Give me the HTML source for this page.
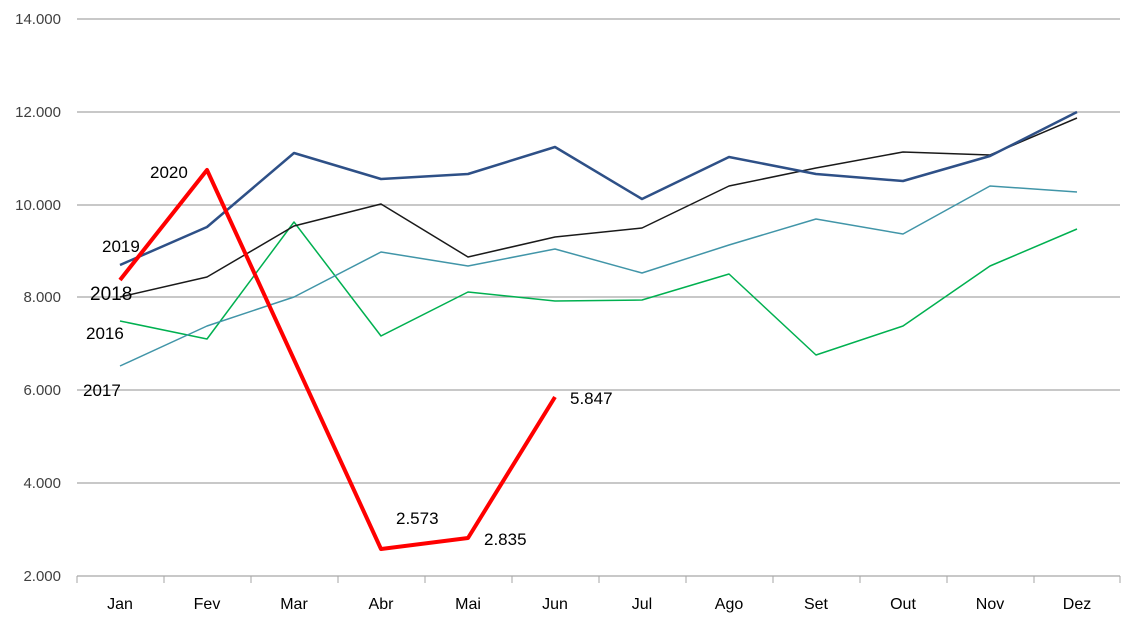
<!DOCTYPE html>
<html><head><meta charset="utf-8"><style>
html,body{margin:0;padding:0;background:#fff;}
svg{display:block;font-family:"Liberation Sans",sans-serif;}
</style></head><body>
<svg width="1140" height="627" viewBox="0 0 1140 627" xmlns="http://www.w3.org/2000/svg">
<g stroke="#a6a6a6" stroke-width="1.3">
<line x1="77" y1="19" x2="1120" y2="19"/>
<line x1="77" y1="112" x2="1120" y2="112"/>
<line x1="77" y1="205" x2="1120" y2="205"/>
<line x1="77" y1="297" x2="1120" y2="297"/>
<line x1="77" y1="390" x2="1120" y2="390"/>
<line x1="77" y1="483" x2="1120" y2="483"/>
<line x1="77" y1="576" x2="1120" y2="576"/>
</g>
<g stroke="#a6a6a6" stroke-width="1">
<line x1="77" y1="576" x2="77" y2="583"/><line x1="164" y1="576" x2="164" y2="583"/><line x1="251" y1="576" x2="251" y2="583"/><line x1="338" y1="576" x2="338" y2="583"/><line x1="425" y1="576" x2="425" y2="583"/><line x1="512" y1="576" x2="512" y2="583"/><line x1="599" y1="576" x2="599" y2="583"/><line x1="686" y1="576" x2="686" y2="583"/><line x1="773" y1="576" x2="773" y2="583"/><line x1="860" y1="576" x2="860" y2="583"/><line x1="947" y1="576" x2="947" y2="583"/><line x1="1034" y1="576" x2="1034" y2="583"/><line x1="1120" y1="576" x2="1120" y2="583"/>
</g>
<g font-size="15" fill="#404040" text-anchor="end">
<text x="61" y="24">14.000</text><text x="61" y="117">12.000</text><text x="61" y="210">10.000</text><text x="61" y="302">8.000</text><text x="61" y="395">6.000</text><text x="61" y="488">4.000</text><text x="61" y="581">2.000</text>
</g>
<g font-size="16" fill="#000" text-anchor="middle">
<text x="120" y="609">Jan</text><text x="207" y="609">Fev</text><text x="294" y="609">Mar</text><text x="381" y="609">Abr</text><text x="468" y="609">Mai</text><text x="555" y="609">Jun</text><text x="642" y="609">Jul</text><text x="729" y="609">Ago</text><text x="816" y="609">Set</text><text x="903" y="609">Out</text><text x="990" y="609">Nov</text><text x="1077" y="609">Dez</text>
</g>
<g fill="none" stroke-linejoin="round">
<polyline stroke="#00b050" stroke-width="1.5" points="120,321 207,339 294,222 381,336 468,292 555,301 642,300 729,274 816,355 903,326 990,266 1077,229"/>
<polyline stroke="#4195a8" stroke-width="1.5" points="120,366 207,326 294,297 381,252 468,266 555,249 642,273 729,245 816,219 903,234 990,186 1077,192"/>
<polyline stroke="#1a1a1a" stroke-width="1.5" points="120,297 207,277 294,226 381,204 468,257 555,237 642,228 729,186 816,168 903,152 990,155 1077,118"/>
<polyline stroke="#2e5087" stroke-width="2.5" points="120,265 207,227 294,153 381,179 468,174 555,147 642,199 729,157 816,174 903,181 990,156 1077,112"/>
<polyline stroke="#ff0000" stroke-width="4" points="120,280 207,170 294,359.5 381,549 468,538 555,397"/>
</g>
<g font-size="17" fill="#000">
<text x="150" y="178">2020</text>
<text x="102" y="252">2019</text>
<text x="90" y="300" font-size="19">2018</text>
<text x="86" y="339">2016</text>
<text x="83" y="396">2017</text>
<text x="570" y="404">5.847</text>
<text x="396" y="524">2.573</text>
<text x="484" y="545">2.835</text>
</g>
</svg>
</body></html>
